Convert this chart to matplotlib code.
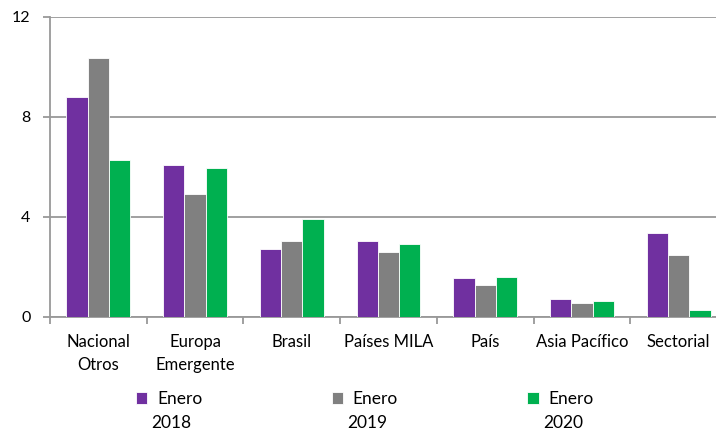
import numpy as np
import matplotlib.pyplot as plt
from matplotlib.ticker import FixedLocator

# Datos
categorias = ['Nacional\nOtros', 'Europa\nEmergente', 'Brasil', 'Países MILA', 'País', 'Asia Pacífico', 'Sectorial']
enero_2018 = [8.79, 6.08, 2.71, 3.05, 1.55, 0.73, 3.35]
enero_2019 = [10.36, 4.91, 3.05, 2.59, 1.27, 0.55, 2.47]
enero_2020 = [6.29, 5.95, 3.92, 2.93, 1.60, 0.63, 0.28]
meses = ['Enero', 'Enero', 'Enero']
anios = ['2018', '2019', '2020']
colores = ['#7030A0', '#808080', '#00B050']

plt.rcParams['font.family'] = ['Lato', 'DejaVu Sans']

fig = plt.figure(figsize=(7.16, 4.32), dpi=100)
ax = fig.add_axes([50 / 716, 115 / 432, 677 / 716, 300 / 432])

x = np.arange(len(categorias))
w = 0.22
for k, vals in enumerate([enero_2018, enero_2019, enero_2020]):
    ax.bar(x + (k - 1) * w, vals, width=w, color=colores[k], edgecolor='white',
           linewidth=0.6, label=meses[k], zorder=3)

ax.set_xlim(-0.5, len(categorias) - 0.5)
ax.set_ylim(0, 12)
ax.set_yticks([0, 4, 8, 12])
ax.yaxis.grid(True, color='#999999', linewidth=1.3, zorder=0)
ax.set_xticks(x)
ax.set_xticklabels(categorias, fontsize=12, linespacing=1.6)
ax.xaxis.set_minor_locator(FixedLocator(np.arange(-0.5, len(categorias), 1)))
ax.tick_params(axis='x', which='major', length=0, pad=12)
ax.tick_params(axis='x', which='minor', length=5, color='#999999', width=1.3)
ax.tick_params(axis='y', length=5, color='#999999', width=1.3, labelsize=11.5, pad=9)

for s in ['top', 'right']:
    ax.spines[s].set_visible(False)
for s in ['left', 'bottom']:
    ax.spines[s].set_color('#999999')
    ax.spines[s].set_linewidth(1.3)

leg = ax.legend(loc='center left', bbox_to_anchor=(136 / 716, 1 - 399 / 432), bbox_transform=fig.transFigure,
                ncol=3, frameon=False, fontsize=12.5, handlelength=0.66, handleheight=0.66,
                handletextpad=0.55, columnspacing=7.45, borderpad=0, borderaxespad=0)

# años debajo de cada "Enero"
fig.canvas.draw()
inv = fig.transFigure.inverted()
for t, anio in zip(leg.get_texts(), anios):
    bb = t.get_window_extent()
    cx = (bb.x0 + bb.x1) / 2 - 8
    fx, fy = inv.transform((cx, bb.y0))
    fig.text(fx, 1 - 423 / 432, anio, fontsize=12.5, ha='center', va='center')

fig.savefig('out.png', dpi=100)
